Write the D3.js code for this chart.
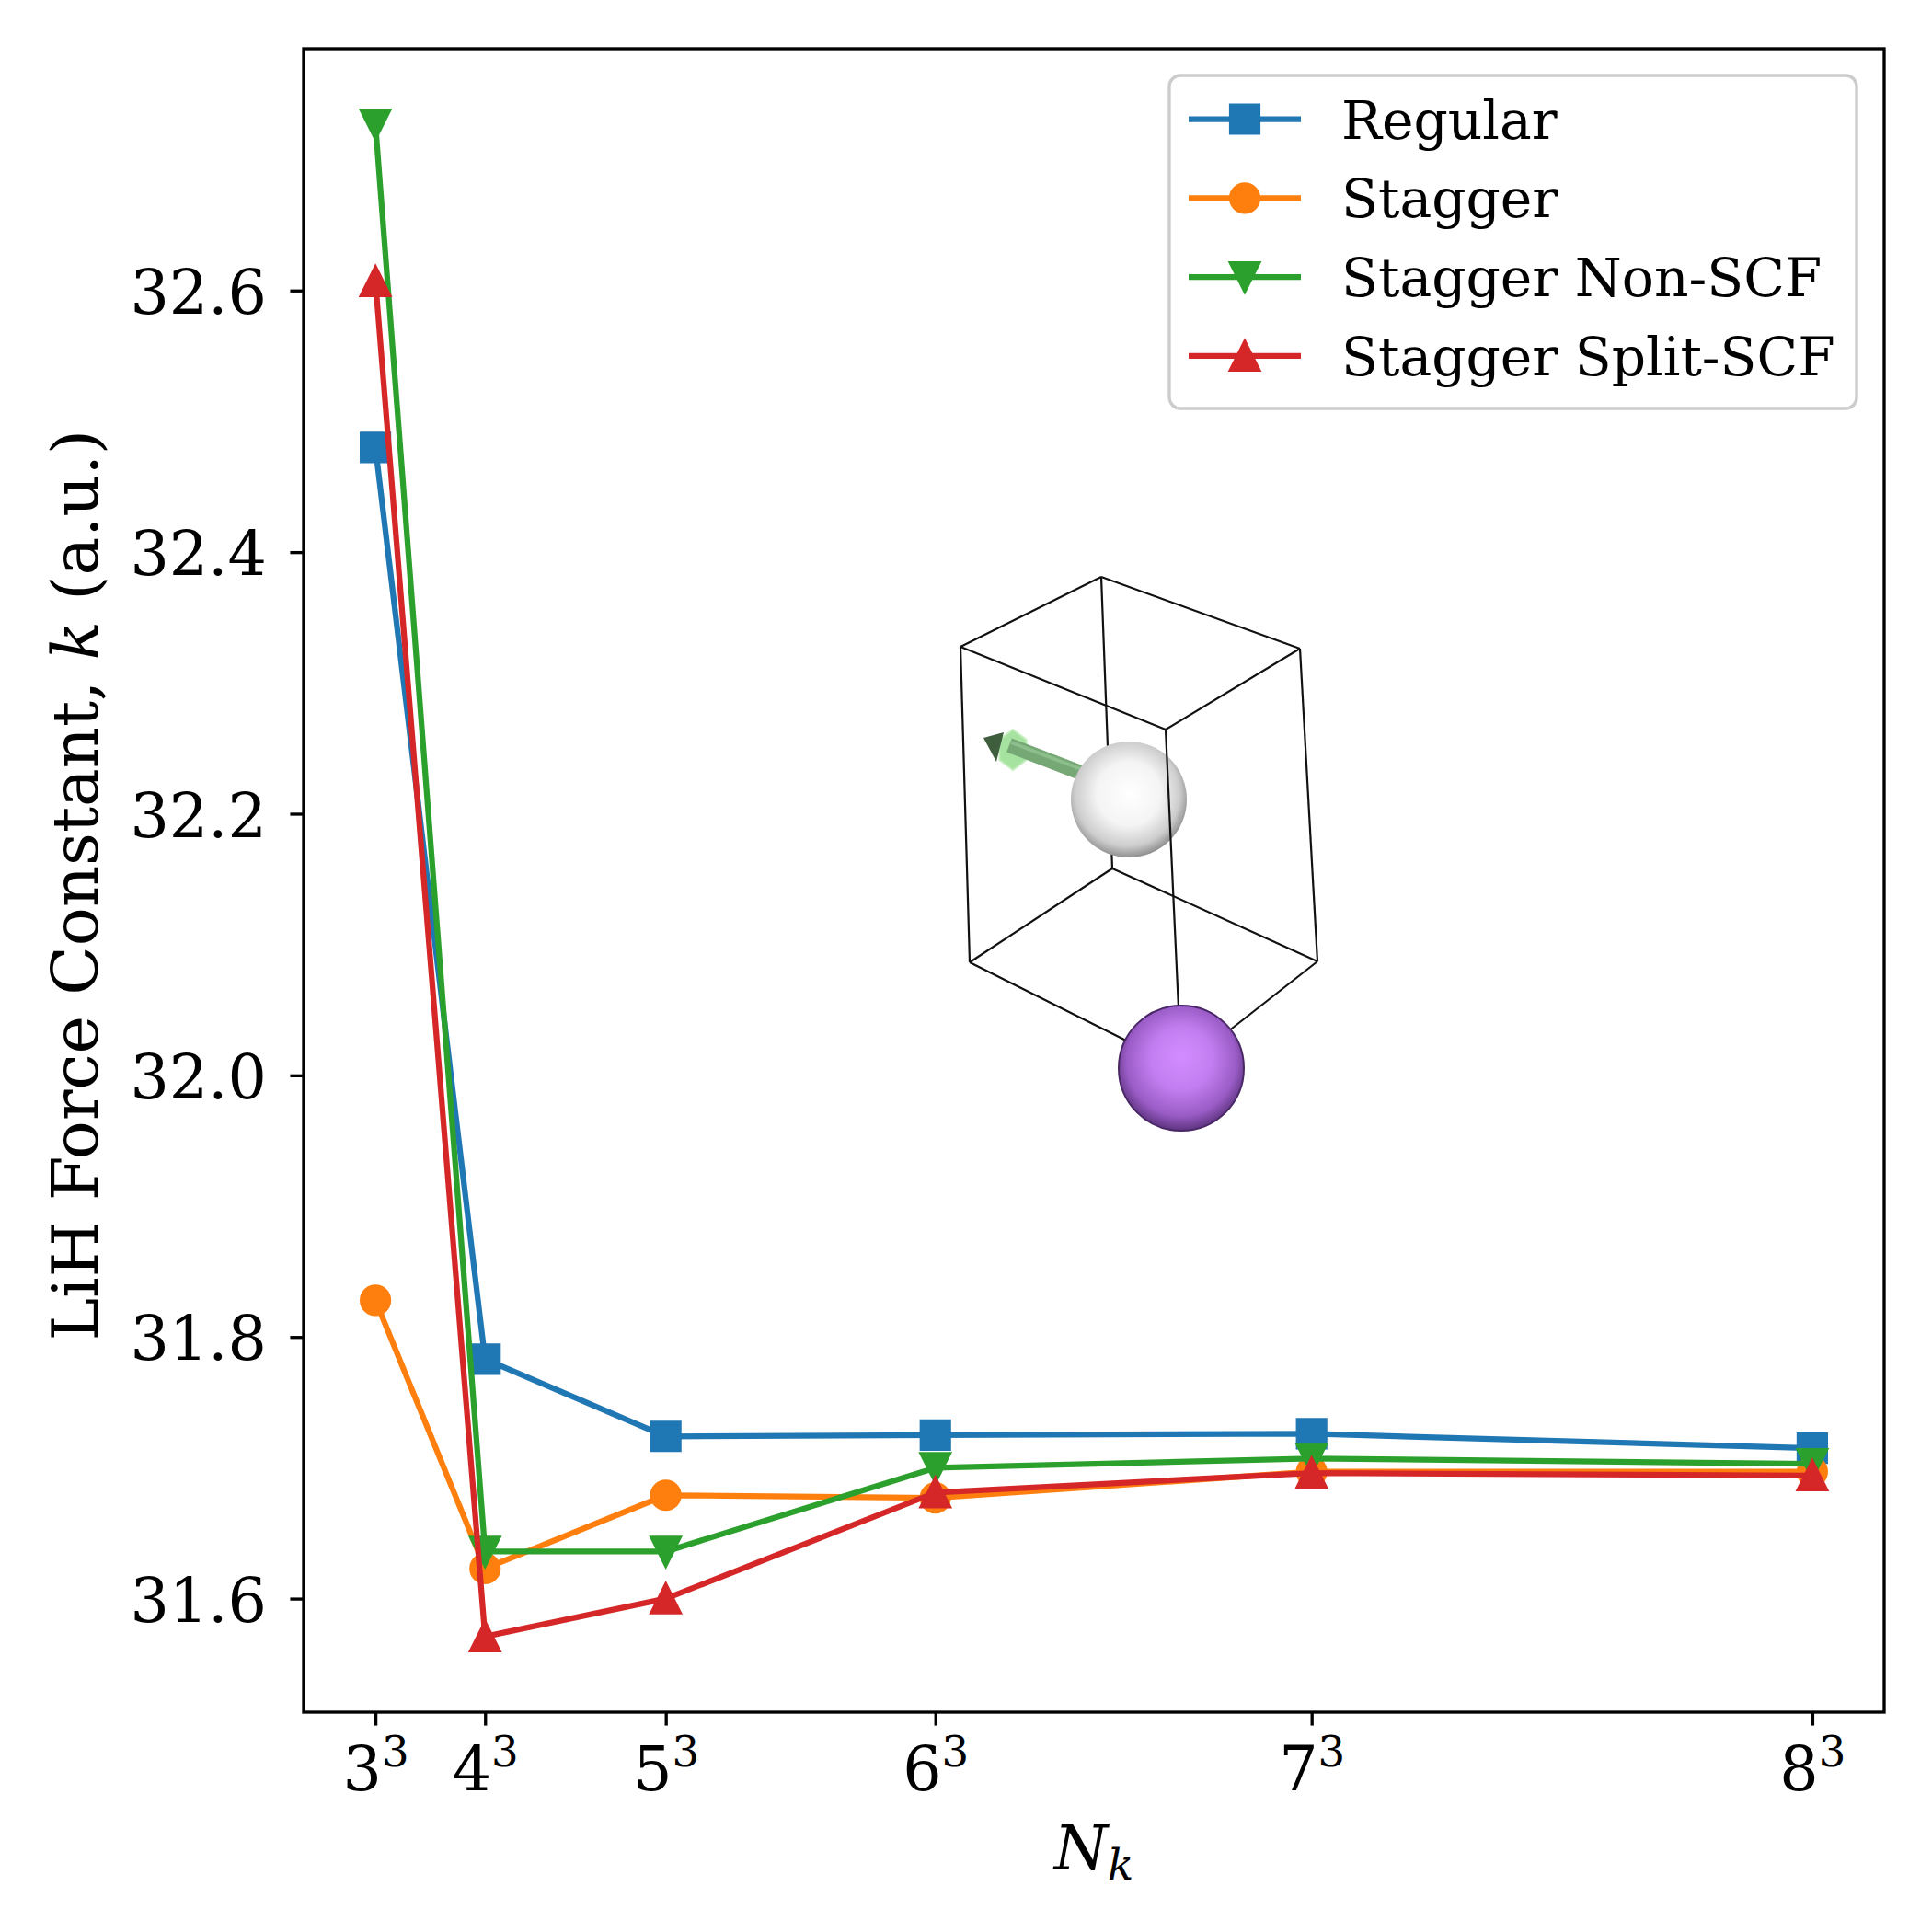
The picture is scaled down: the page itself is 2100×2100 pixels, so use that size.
<!DOCTYPE html>
<html>
<head>
<meta charset="utf-8">
<script src="https://cdn.jsdelivr.net/npm/d3@7"></script>
<style>
  body { margin: 0; background: #fff; }
  svg text { font-family: "DejaVu Serif", serif; }
</style>
</head>
<body>
<div id="chart"></div>
<script>
// k-point counts (N_k = n^3) and the force constants
let nk = [27, 64, 125, 216, 343, 512];
let nkBase = ["3", "4", "5", "6", "7", "8"];
let regular = [32.480, 31.783, 31.724, 31.725, 31.726, 31.715];
let stagger = [31.828, 31.623, 31.679, 31.677, 31.697, 31.697];
let staggerNonScf = [32.727, 31.636, 31.636, 31.700, 31.707, 31.703];
let staggerSplitScf = [32.607, 31.571, 31.600, 31.681, 31.696, 31.694];
let yTicks = [31.6, 31.8, 32.0, 32.2, 32.4, 32.6];

let seriesNames = ["Regular", "Stagger", "Stagger Non-SCF", "Stagger Split-SCF"];
let seriesColors = ["#1f77b4", "#ff7f0e", "#2ca02c", "#d62728"];
let seriesMarkers = ["square", "circle", "triDown", "triUp"];
let seriesValues = [regular, stagger, staggerNonScf, staggerSplitScf];

// figure geometry (px, 300 dpi)
let svgWidth = 2100;
let svgHeight = 2100;
let plot = { left: 330, right: 2048, top: 53, bottom: 1861 };
let pt = 300 / 72;
let tickFont = 16 * pt;
let labelFont = 16.8 * pt;
let legendFont = 14 * pt;
let lineW = 1.5 * pt;
let markerSize = 7.2 * pt;
let markerEdge = 1.0 * pt;

let svg = d3.select("#chart")
  .append("svg")
  .attr("width", svgWidth)
  .attr("height", svgHeight);

svg.append("rect").attr("width", svgWidth).attr("height", svgHeight).attr("fill", "#fff");

// matplotlib-style 5% margins
function padded(lo, hi) {
  let d = (hi - lo) * 0.05;
  return [lo - d, hi + d];
}
let allY = seriesValues.flat();
let xScale = d3.scaleLinear()
  .domain(padded(d3.min(nk), d3.max(nk)))
  .range([plot.left, plot.right]);
let yScale = d3.scaleLinear()
  .domain(padded(d3.min(allY), d3.max(allY)))
  .range([plot.bottom, plot.top]);

function markerPath(type, s) {
  let h = s / 2;
  if (type === "square") return `M${-h},${-h}H${h}V${h}H${-h}Z`;
  if (type === "circle") return `M${h},0A${h},${h} 0 1,1 ${-h},0A${h},${h} 0 1,1 ${h},0Z`;
  if (type === "triUp") return `M0,${-h}L${h},${h}L${-h},${h}Z`;
  return `M0,${h}L${h},${-h}L${-h},${-h}Z`;
}

// ---- molecule inset (decorative picture of the LiH cell) ----
let inset = svg.append("g").attr("class", "inset");
let defs = svg.append("defs");
let gW = defs.append("radialGradient").attr("id", "hSphere")
  .attr("cx", "0.48").attr("cy", "0.45").attr("r", "0.55").attr("fx", "0.52").attr("fy", "0.45");
gW.append("stop").attr("offset", "0").attr("stop-color", "#ffffff");
gW.append("stop").attr("offset", "0.5").attr("stop-color", "#f4f4f4");
gW.append("stop").attr("offset", "0.82").attr("stop-color", "#cdcdcd");
gW.append("stop").attr("offset", "1").attr("stop-color", "#909090");
let gP = defs.append("radialGradient").attr("id", "liSphere")
  .attr("cx", "0.5").attr("cy", "0.45").attr("r", "0.55").attr("fx", "0.5").attr("fy", "0.4");
gP.append("stop").attr("offset", "0").attr("stop-color", "#d38cff");
gP.append("stop").attr("offset", "0.45").attr("stop-color", "#c27ef0");
gP.append("stop").attr("offset", "0.8").attr("stop-color", "#9a5cc6");
gP.append("stop").attr("offset", "1").attr("stop-color", "#5e3480");

let cell = {
  A: [1197, 627], B: [1044, 703], C: [1413, 705], D: [1267, 793],
  E: [1054, 1046], F: [1209, 944], G: [1432, 1045], H: [1284, 1161]
};
function edge(p, q) {
  inset.append("line")
    .attr("x1", cell[p][0]).attr("y1", cell[p][1])
    .attr("x2", cell[q][0]).attr("y2", cell[q][1])
    .attr("stroke", "#111").attr("stroke-width", 2.2);
}
edge("A", "F");
// force arrow on the H atom
inset.append("polygon")
  .attr("points", d3.range(6).map(i => {
    let a = Math.PI / 6 + i * Math.PI / 3;
    return [1101 + 17 * Math.cos(a), 815 + 22 * Math.sin(a)].join(",");
  }).join(" "))
  .attr("fill", "#a6e2a0").attr("stroke", "#c6efc0").attr("stroke-width", 2);
inset.append("polygon")
  .attr("points", "1069,802 1091,796 1083,828")
  .attr("fill", "#3e5e3e");
inset.append("line")
  .attr("x1", 1175).attr("y1", 840).attr("x2", 1097).attr("y2", 810)
  .attr("stroke", "#76a876").attr("stroke-width", 16);
inset.append("line")
  .attr("x1", 1175).attr("y1", 836).attr("x2", 1099).attr("y2", 807)
  .attr("stroke", "#8cbd8c").attr("stroke-width", 4);
inset.append("circle").attr("cx", 1227).attr("cy", 869).attr("r", 63)
  .attr("fill", "url(#hSphere)");
[["A", "B"], ["A", "C"], ["B", "D"], ["C", "D"], ["B", "E"], ["C", "G"],
 ["D", "H"], ["E", "F"], ["F", "G"], ["E", "H"], ["G", "H"]].forEach(e => edge(e[0], e[1]));
inset.append("circle").attr("cx", 1284).attr("cy", 1161).attr("r", 68)
  .attr("fill", "url(#liSphere)").attr("stroke", "#4a2766").attr("stroke-width", 2);

// ---- series ----
let line = d3.line().x(d => xScale(d[0])).y(d => yScale(d[1]));
seriesValues.forEach((vals, i) => {
  let pts = nk.map((n, j) => [n, vals[j]]);
  let g = svg.append("g");
  g.append("path")
    .attr("d", line(pts))
    .attr("fill", "none")
    .attr("stroke", seriesColors[i])
    .attr("stroke-width", lineW)
    .attr("stroke-linejoin", "round");
  g.selectAll("path.mk")
    .data(pts)
    .enter()
    .append("path")
    .attr("class", "mk")
    .attr("d", markerPath(seriesMarkers[i], markerSize))
    .attr("transform", d => `translate(${xScale(d[0])},${yScale(d[1])})`)
    .attr("fill", seriesColors[i])
    .attr("stroke", seriesColors[i])
    .attr("stroke-width", markerEdge)
    .attr("stroke-linejoin", "miter");
});

// ---- axes ----
let tickLen = 3.5 * pt;
let xAxis = d3.axisBottom(xScale).tickValues(nk).tickSize(tickLen).tickSizeOuter(0).tickFormat("");
let xg = svg.append("g")
  .attr("transform", `translate(0, ${plot.bottom})`)
  .call(xAxis);
xg.select(".domain").remove();
xg.selectAll(".tick line").attr("stroke", "#000").attr("stroke-width", 0.8 * pt);
xg.selectAll(".tick text").remove();
xg.selectAll(".tick").append("text")
  .attr("y", 85)
  .attr("fill", "#000")
  .attr("text-anchor", "middle")
  .style("font-size", tickFont + "px")
  .each(function(d, i) {
    let t = d3.select(this);
    t.append("tspan").text(nkBase[i]);
    t.append("tspan").attr("dy", -26).style("font-size", (tickFont * 0.7) + "px").text("3");
  });

let yAxis = d3.axisLeft(yScale).tickValues(yTicks).tickSize(tickLen).tickSizeOuter(0)
  .tickPadding(3.5 * pt + 11).tickFormat(d3.format(".1f"));
let yg = svg.append("g")
  .attr("transform", `translate(${plot.left}, 0)`)
  .call(yAxis);
yg.select(".domain").remove();
yg.selectAll(".tick line").attr("stroke", "#000").attr("stroke-width", 0.8 * pt);
yg.selectAll(".tick text")
  .attr("fill", "#000")
  .attr("dy", "0.37em")
  .style("font-family", "DejaVu Serif")
  .style("font-size", tickFont + "px");

// frame
svg.append("rect")
  .attr("x", plot.left).attr("y", plot.top)
  .attr("width", plot.right - plot.left).attr("height", plot.bottom - plot.top)
  .attr("fill", "none").attr("stroke", "#000").attr("stroke-width", 0.8 * pt);

// axis labels
let xl = svg.append("text")
  .attr("x", (plot.left + plot.right) / 2)
  .attr("y", 2032)
  .attr("text-anchor", "middle")
  .style("font-size", tickFont + "px");
xl.append("tspan").style("font-style", "italic").text("N");
xl.append("tspan").attr("dy", 11).style("font-style", "italic").style("font-size", (tickFont * 0.7) + "px").text("k");

let yl = svg.append("text")
  .attr("transform", `translate(106, 962) rotate(-90)`)
  .attr("text-anchor", "middle")
  .style("font-size", labelFont + "px");
yl.append("tspan").text("LiH Force Constant, ");
yl.append("tspan").style("font-style", "italic").text("k");
yl.append("tspan").text(" (a.u.)");

// ---- legend ----
let legend = svg.append("g");
legend.append("rect")
  .attr("x", 1271).attr("y", 82).attr("width", 747).attr("height", 362)
  .attr("rx", 12).attr("ry", 12)
  .attr("fill", "#fff").attr("fill-opacity", 0.8)
  .attr("stroke", "#cccccc").attr("stroke-width", 0.8 * pt);
seriesNames.forEach((name, i) => {
  let y = 129.5 + i * 85.8;
  let e = legend.append("g").attr("transform", `translate(0, ${y})`);
  e.append("line")
    .attr("x1", 1292).attr("x2", 1414).attr("y1", 0).attr("y2", 0)
    .attr("stroke", seriesColors[i]).attr("stroke-width", lineW);
  e.append("path")
    .attr("d", markerPath(seriesMarkers[i], markerSize))
    .attr("transform", "translate(1353, 0)")
    .attr("fill", seriesColors[i])
    .attr("stroke", seriesColors[i])
    .attr("stroke-width", markerEdge);
  e.append("text")
    .attr("x", 1458).attr("y", legendFont * 0.36)
    .style("font-size", legendFont + "px")
    .attr("fill", "#000")
    .text(name);
});
</script>
</body>
</html>
